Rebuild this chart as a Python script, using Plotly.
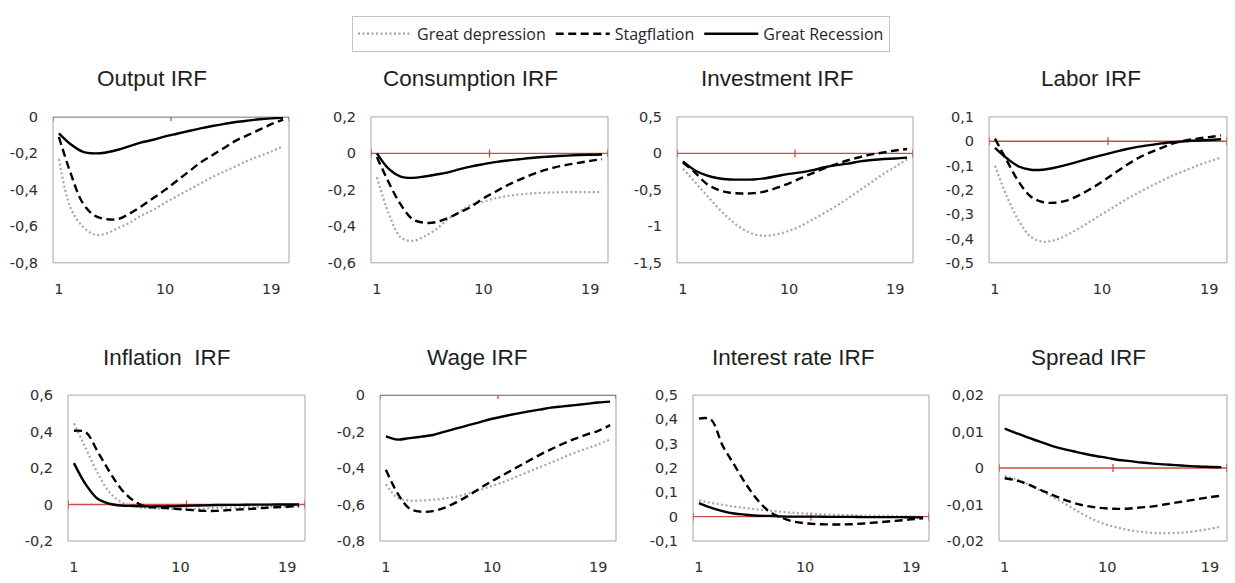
import numpy as np
import plotly.graph_objects as go

# ---------------------------------------------------------------- data
periods = list(range(1, 21))
x_tick_labels = [1, 10, 19]
series_names = ["Great depression", "Stagflation", "Great Recession"]

output_gd = [-0.23, -0.50, -0.60, -0.645, -0.64, -0.61, -0.58, -0.54, -0.51, -0.47,
             -0.435, -0.40, -0.365, -0.33, -0.30, -0.27, -0.24, -0.215, -0.19, -0.16]
output_st = [-0.11, -0.31, -0.47, -0.54, -0.56, -0.56, -0.53, -0.49, -0.445, -0.40,
             -0.35, -0.30, -0.25, -0.21, -0.17, -0.13, -0.10, -0.07, -0.04, -0.015]
output_gr = [-0.09, -0.15, -0.19, -0.20, -0.195, -0.18, -0.16, -0.14, -0.125, -0.107,
             -0.092, -0.077, -0.063, -0.05, -0.038, -0.028, -0.02, -0.013, -0.008, -0.004]

cons_gd = [-0.13, -0.33, -0.46, -0.48, -0.455, -0.416, -0.36, -0.32, -0.28, -0.264,
           -0.246, -0.234, -0.225, -0.22, -0.216, -0.214, -0.212, -0.212, -0.212, -0.212]
cons_st = [-0.02, -0.16, -0.28, -0.36, -0.38, -0.377, -0.354, -0.323, -0.29, -0.246,
           -0.21, -0.175, -0.145, -0.118, -0.095, -0.077, -0.063, -0.052, -0.041, -0.032]
cons_gr = [0.0, -0.085, -0.127, -0.134, -0.127, -0.116, -0.104, -0.086, -0.071, -0.059,
           -0.048, -0.039, -0.032, -0.025, -0.02, -0.016, -0.012, -0.009, -0.007, -0.006]

inv_gd = [-0.21, -0.39, -0.57, -0.75, -0.906, -1.03, -1.107, -1.13, -1.107, -1.06,
          -0.995, -0.906, -0.817, -0.72, -0.616, -0.504, -0.393, -0.28, -0.183, -0.08]
inv_st = [-0.125, -0.26, -0.415, -0.50, -0.54, -0.55, -0.545, -0.52, -0.47, -0.41,
          -0.34, -0.27, -0.205, -0.147, -0.094, -0.05, -0.013, 0.013, 0.04, 0.06]
inv_gr = [-0.11, -0.23, -0.30, -0.34, -0.357, -0.36, -0.357, -0.34, -0.31, -0.28,
          -0.26, -0.23, -0.19, -0.16, -0.14, -0.11, -0.09, -0.076, -0.07, -0.058]

labor_gd = [-0.10, -0.227, -0.327, -0.393, -0.413, -0.407, -0.387, -0.36, -0.33, -0.30,
            -0.27, -0.24, -0.213, -0.187, -0.163, -0.14, -0.12, -0.10, -0.083, -0.067]
labor_st = [0.011, -0.08, -0.167, -0.227, -0.25, -0.253, -0.244, -0.224, -0.197, -0.167,
            -0.133, -0.10, -0.07, -0.047, -0.027, -0.009, 0.003, 0.011, 0.017, 0.024]
labor_gr = [-0.027, -0.07, -0.104, -0.117, -0.117, -0.109, -0.097, -0.084, -0.07, -0.057,
            -0.045, -0.033, -0.023, -0.016, -0.009, -0.004, 0.0, 0.003, 0.005, 0.008]

infl_gd = [0.445, 0.307, 0.173, 0.067, 0.013, -0.01, -0.019, -0.022, -0.024, -0.026,
           -0.024, -0.022, -0.019, -0.017, -0.015, -0.014, -0.012, -0.012, -0.01, -0.01]
infl_st = [0.404, 0.396, 0.29, 0.18, 0.084, 0.022, -0.01, -0.017, -0.02, -0.026,
           -0.031, -0.035, -0.035, -0.031, -0.027, -0.024, -0.019, -0.015, -0.012, -0.008]
infl_gr = [0.227, 0.11, 0.031, 0.004, -0.006, -0.008, -0.01, -0.01, -0.01, -0.008,
           -0.006, -0.005, -0.003, -0.002, -0.002, -0.001, -0.001, 0.0, 0.0, 0.0]

wage_gd = [-0.489, -0.564, -0.578, -0.578, -0.574, -0.567, -0.556, -0.539, -0.519, -0.498,
           -0.475, -0.45, -0.423, -0.396, -0.37, -0.343, -0.316, -0.293, -0.27, -0.244]
wage_st = [-0.41, -0.54, -0.622, -0.64, -0.636, -0.617, -0.587, -0.551, -0.51, -0.471,
           -0.436, -0.40, -0.364, -0.329, -0.297, -0.267, -0.24, -0.217, -0.196, -0.165]
wage_gr = [-0.226, -0.244, -0.236, -0.228, -0.219, -0.20, -0.183, -0.165, -0.148, -0.13,
           -0.116, -0.103, -0.091, -0.08, -0.069, -0.062, -0.055, -0.048, -0.041, -0.036]

rate_gd = [0.067, 0.057, 0.049, 0.041, 0.035, 0.029, 0.024, 0.02, 0.016, 0.013,
           0.011, 0.008, 0.007, 0.005, 0.004, 0.003, 0.003, 0.001, 0.001, 0.0]
rate_st = [0.403, 0.40, 0.293, 0.213, 0.133, 0.067, 0.02, -0.004, -0.02, -0.027,
           -0.031, -0.032, -0.032, -0.031, -0.028, -0.024, -0.02, -0.016, -0.011, -0.007]
rate_gr = [0.056, 0.037, 0.023, 0.013, 0.008, 0.004, 0.003, 0.001, 0.0, 0.0,
           0.0, -0.001, -0.001, -0.001, -0.002, -0.002, -0.002, -0.002, -0.003, -0.003]

spread_gd = [-0.0022, -0.0031, -0.0044, -0.006, -0.0076, -0.0093, -0.0111, -0.0129, -0.0144, -0.0156,
             -0.0164, -0.0171, -0.0175, -0.0178, -0.0179, -0.0178, -0.0176, -0.0172, -0.0167, -0.016]
spread_st = [-0.0028, -0.0034, -0.0044, -0.0058, -0.0071, -0.0084, -0.0095, -0.0103, -0.0108, -0.0111,
             -0.0112, -0.0111, -0.0108, -0.0105, -0.01, -0.0095, -0.009, -0.0085, -0.008, -0.0076]
spread_gr = [0.0108, 0.0096, 0.0084, 0.0073, 0.0062, 0.0053, 0.0046, 0.0039, 0.0033, 0.0028,
             0.0022, 0.0019, 0.0015, 0.0012, 0.001, 0.0008, 0.0006, 0.0004, 0.0003, 0.0002]

# panel: title, (gd, st, gr), y range, y step
panels = [
    ("Output IRF", (output_gd, output_st, output_gr), (-0.8, 0.0), 0.2),
    ("Consumption IRF", (cons_gd, cons_st, cons_gr), (-0.6, 0.2), 0.2),
    ("Investment IRF", (inv_gd, inv_st, inv_gr), (-1.5, 0.5), 0.5),
    ("Labor IRF", (labor_gd, labor_st, labor_gr), (-0.5, 0.1), 0.1),
    ("Inflation  IRF", (infl_gd, infl_st, infl_gr), (-0.2, 0.6), 0.2),
    ("Wage IRF", (wage_gd, wage_st, wage_gr), (-0.8, 0.0), 0.2),
    ("Interest rate IRF", (rate_gd, rate_st, rate_gr), (-0.1, 0.5), 0.1),
    ("Spread IRF", (spread_gd, spread_st, spread_gr), (-0.02, 0.02), 0.01),
]

# ---------------------------------------------------------------- layout geometry (pixels)
W, H = 1235, 583
plot_boxes = [  # left, right, top, bottom
    (53, 289, 112, 262), (371, 608, 112, 262), (677, 913, 112, 262), (989, 1227, 112, 262),
    (68, 305, 398, 548), (380, 616, 398, 548), (693, 929, 398, 548), (999, 1227, 398, 548),
]
title_pos = [(152, 73), (470, 73), (777, 73), (1091, 73),
             (167, 359), (477, 359), (793, 359), (1088, 359)]

styles = [
    dict(color="#a6a6a6", width=2.2, dash="2px,2.5px"),
    dict(color="#000000", width=2.4, dash="8px,4.5px"),
    dict(color="#000000", width=2.4, dash="solid"),
]

AXIS_RED = "#cd4b48"
BORDER = "#a3a3a3"
TICK_FONT = dict(family="DejaVu Sans, Verdana, sans-serif", size=14.5, color="#2e2e2e")
TITLE_FONT = dict(family="Liberation Sans Narrow, Arial Narrow, Liberation Sans, Arial, sans-serif",
                  size=22.5, color="#1e1e1e")


def fmt(v):
    v = round(float(v), 4)
    if v == 0:
        return "0"
    return f"{v:g}".replace(".", ",")


fig = go.Figure()
shapes = []
annotations = []

for i, (title, series, (ymin, ymax), step) in enumerate(panels):
    k = i + 1
    suffix = "" if k == 1 else str(k)
    xa, ya = f"x{suffix}", f"y{suffix}"
    l, r, t, b = plot_boxes[i]
    for j, (vals, name) in enumerate(zip(series, series_names)):
        fig.add_trace(go.Scatter(
            x=periods, y=vals, mode="lines", name=name,
            line=dict(shape="spline", smoothing=1.0, **styles[j]),
            xaxis=xa, yaxis=ya, showlegend=(i == 0), legendrank=j + 1,
            hoverinfo="skip",
        ))

    yticks = np.round(np.arange(ymin, ymax + step / 2, step), 4)
    fig.update_layout({
        f"xaxis{suffix}": dict(
            domain=[l / W, r / W], anchor=ya, range=[0.5, 20.5],
            tickmode="array", tickvals=x_tick_labels, ticktext=[str(v) for v in x_tick_labels],
            showgrid=False, zeroline=False, showline=False, ticks="",
            tickfont=TICK_FONT, ticklabelstandoff=16, fixedrange=True,
        ),
        f"yaxis{suffix}": dict(
            domain=[1 - b / H, 1 - t / H], anchor=xa, range=[ymin, ymax],
            tickmode="array", tickvals=list(yticks), ticktext=[fmt(v) for v in yticks],
            showgrid=False, zeroline=False, showline=False, ticks="",
            tickfont=TICK_FONT, ticklabelstandoff=14, fixedrange=True,
        ),
    })

    xd, yd = f"{xa} domain", f"{ya} domain"
    # plot-area frame
    shapes.append(dict(type="rect", xref=xd, yref=yd, x0=0, x1=1, y0=0, y1=1,
                       line=dict(color=BORDER, width=1), layer="below"))
    # horizontal axis crossing at zero
    shapes.append(dict(type="line", xref=xd, yref=ya, x0=0, x1=1, y0=0, y1=0,
                       line=dict(color=AXIS_RED, width=1.3), layer="below"))
    for xt in (0.5, 10.5, 20.5):
        shapes.append(dict(type="line", xref=xa, yref=ya, ysizemode="pixel", yanchor=0,
                           x0=xt, x1=xt, y0=-4, y1=4,
                           line=dict(color=AXIS_RED, width=1.3), layer="below"))

    tx, ty = title_pos[i]
    annotations.append(dict(text=title, xref="paper", yref="paper", x=tx / W, y=1 - ty / H,
                            xanchor="center", yanchor="middle", showarrow=False,
                            font=TITLE_FONT))

fig.update_layout(
    width=W, height=H,
    margin=dict(l=0, r=0, t=0, b=0),
    paper_bgcolor="white", plot_bgcolor="rgba(0,0,0,0)",
    shapes=shapes, annotations=annotations,
    legend=dict(
        orientation="h", x=621 / W, y=1 - 8 / H, xanchor="center", yanchor="top",
        bordercolor="#c4c4c4", borderwidth=1, bgcolor="white",
        font=dict(family="Open Sans, Noto Sans, sans-serif", size=16, color="#262626"),
        itemwidth=54, traceorder="normal",
    ),
)

fig.write_html("out.html")
